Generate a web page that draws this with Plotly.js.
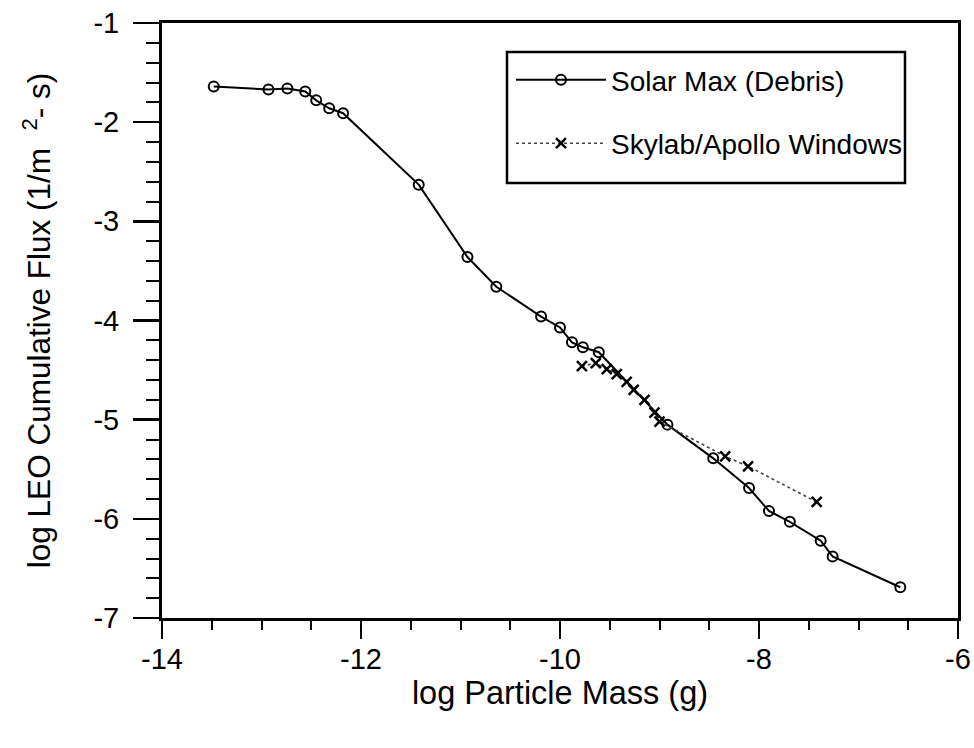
<!DOCTYPE html>
<html><head><meta charset="utf-8">
<script src="https://cdn.plot.ly/plotly-3.0.1.min.js"></script>
<style>body{margin:0;background:#fff}#chart{width:974px;height:748px}</style>
</head><body><div id="chart"></div>
<script>
// Solar Max (Debris)
const solarMass = [-13.48,-12.93,-12.74,-12.56,-12.45,-12.32,-12.18,-11.42,-10.93,-10.64,-10.19,-10.00,-9.88,-9.77,-9.61,-8.92,-8.46,-8.10,-7.90,-7.69,-7.38,-7.26,-6.58];
const solarFlux = [-1.64,-1.67,-1.66,-1.69,-1.78,-1.86,-1.91,-2.63,-3.36,-3.66,-3.96,-4.07,-4.22,-4.27,-4.32,-5.05,-5.39,-5.69,-5.92,-6.03,-6.22,-6.38,-6.69];
// Skylab/Apollo Windows
const skyMass = [-9.78,-9.64,-9.53,-9.43,-9.33,-9.26,-9.15,-9.05,-9.00,-8.34,-8.11,-7.42];
const skyFlux = [-4.46,-4.43,-4.49,-4.54,-4.62,-4.70,-4.80,-4.93,-5.02,-5.37,-5.47,-5.83];

const xTickVals = [-14,-12,-10,-8,-6];
const yTickVals = [-7,-6,-5,-4,-3,-2,-1];

const FONT = '"Liberation Sans", Arial, Helvetica, sans-serif';
const NB = '\u00A0';

const traces = [
  {x: solarMass, y: solarFlux, name: 'Solar Max (Debris)', mode: 'lines+markers', legendgroup: 'a',
   line: {color: '#000', width: 2},
   marker: {symbol: 'circle-open', size: 10, color: '#000', line: {width: 2, color: '#000'}}},
  {x: skyMass, y: skyFlux, name: 'Skylab/Apollo Windows', mode: 'lines+markers', legendgroup: 'b',
   line: {color: '#444', width: 1.6, dash: 'dot'},
   marker: {symbol: 'x-thin-open', size: 10, color: '#000', line: {width: 2.5, color: '#000'}}}
];

const layout = {
  width: 974, height: 748,
  margin: {l: 162, r: 16, t: 23, b: 130},
  paper_bgcolor: '#fff', plot_bgcolor: '#fff',
  font: {family: FONT, color: '#000', size: 29},
  showlegend: true,
  legend: {x: 0.4384, y: 0.946, xanchor: 'left', yanchor: 'top',
    borderwidth: 0, bgcolor: 'rgba(0,0,0,0)',
    font: {family: FONT, size: 28, color: '#000'},
    traceorder: 'grouped', tracegroupgap: 24, itemwidth: 90},
  shapes: [{type: 'rect', xref: 'paper', yref: 'paper', x0: 0.4334, x1: 0.9334, y0: 0.7311, y1: 0.9513,
    line: {color: '#000', width: 2.5}, fillcolor: 'rgba(0,0,0,0)'}],
  xaxis: {range: [-14, -6], tickvals: xTickVals, ticktext: xTickVals.map(String),
    showgrid: false, zeroline: false, showline: true, linecolor: '#000', linewidth: 3, mirror: true,
    ticks: 'outside', ticklen: 18, tickwidth: 2.5, tickcolor: '#000', ticklabelstandoff: -5,
    minor: {dtick: 0.5, tick0: -14, ticks: 'outside', ticklen: 9, tickwidth: 2, tickcolor: '#000', showgrid: false},
    tickfont: {size: 29},
    title: {text: 'log Particle Mass (g)', font: {size: 32.5}, standoff: 5}},
  yaxis: {range: [-7, -1], tickvals: yTickVals, ticktext: yTickVals.map(String),
    showgrid: false, zeroline: false, showline: true, linecolor: '#000', linewidth: 3, mirror: true,
    ticks: 'outside', ticklen: 26, tickwidth: 2.5, tickcolor: '#000', ticklabelstandoff: 8,
    minor: {dtick: 0.2, tick0: -7, ticks: 'outside', ticklen: 13, tickwidth: 2, tickcolor: '#000', showgrid: false},
    tickfont: {size: 29},
    title: {text: 'log LEO Cumulative Flux (1/m' + NB + NB + '<sup>2</sup>- s)', font: {size: 31.5}, standoff: 34}}
};

Plotly.newPlot('chart', traces, layout, {staticPlot: true});
</script></body></html>
